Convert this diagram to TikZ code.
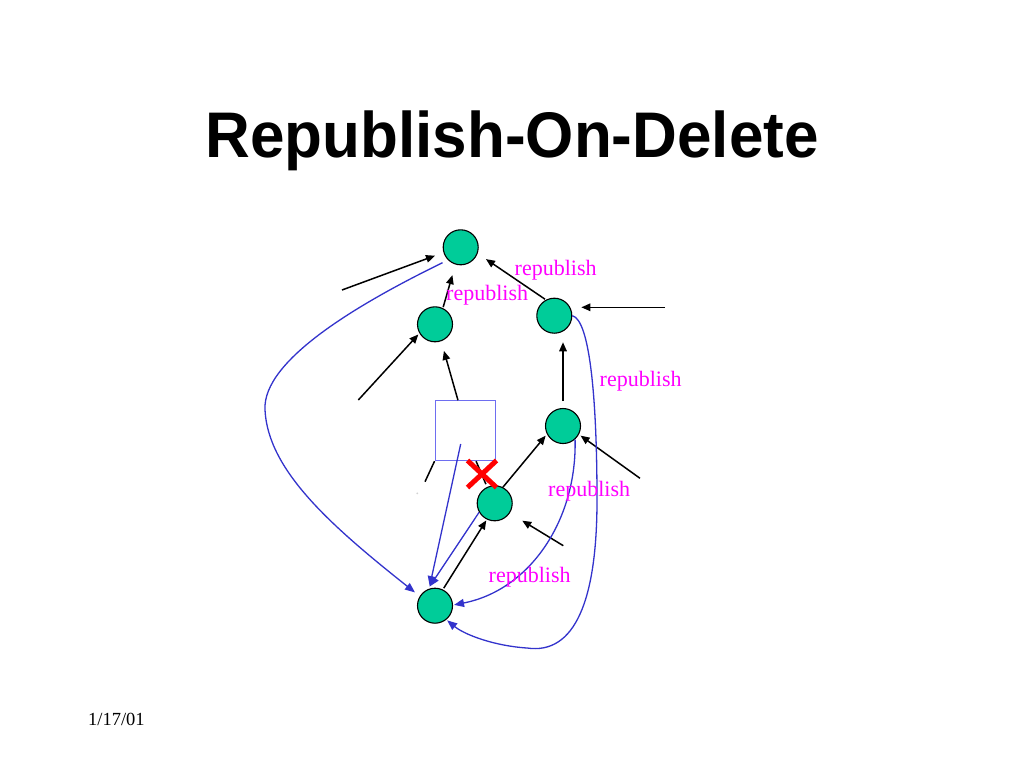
\documentclass[tikz,border=0pt]{standalone}
\usepackage{fontspec}
\setmainfont{Liberation Serif}
\newfontfamily\titlefont{Liberation Sans}
\usetikzlibrary{arrows.meta,shapes.misc}
\definecolor{peergreen}{RGB}{0,204,153}
\definecolor{curveblue}{RGB}{51,51,204}
\definecolor{boxblue}{RGB}{110,110,240}
\definecolor{repmagenta}{RGB}{255,0,255}
\begin{document}
\begin{tikzpicture}[x=1pt,y=-1pt,
 peer/.style={circle,draw=black,line width=1.1pt,fill=peergreen,minimum size=35pt,inner sep=0pt},
 arr/.style={line width=1.5pt,-{Triangle[length=9pt,width=7.5pt]}},
 plain/.style={line width=1.5pt},
 bluearr/.style={draw=curveblue,line width=1.3pt,-{Triangle[length=10pt,width=8pt]}},
 lbl/.style={text=repmagenta,font=\fontsize{22}{22}\selectfont,anchor=base west,inner sep=0pt},
]
\useasboundingbox[fill=white] (0,0) rectangle (1024,768);

% title and date
\node[font=\titlefont\bfseries\fontsize{62}{62}\selectfont, anchor=base, inner sep=0pt, yscale=1.04] (title) at (512,157) {Republish-On-Delete};
\node[font=\fontsize{18.5}{18.5}\selectfont, anchor=base west, inner sep=0pt] (date) at (88,725) {1/17/01};

% peers
\node[peer] (A) at (460.7,247.3) {};
\node[peer] (B) at (435,324.3) {};
\node[peer] (C) at (554.3,315.7) {};
\node[peer] (D) at (563,426) {};
\node[peer] (E) at (494.7,503.3) {};
\node[peer] (F) at (435,605.7) {};
\node[draw=boxblue,line width=0.9pt,minimum width=60pt,minimum height=60pt,inner sep=0pt] (R) at (465,430.7) {};

% free ends
\coordinate (s1) at (342,290);
\coordinate (s4) at (665,307.3);
\coordinate (s5) at (358.3,400);
\coordinate (s8) at (640,478.3);
\coordinate (s10) at (563.3,545.7);
\coordinate (s12) at (425,481.7);
\coordinate (r1) at (460.7,444);

% black arrows
\draw[arr, shorten >=9pt] (s1) -- (A.197);
\draw[arr, shorten >=11pt, shorten <=1pt] (B.64) -- (A.253);
\draw[arr, shorten >=10pt, shorten <=1pt] (C.118) -- (A.340);
\draw[arr, shorten >=9pt] (s4) -- (s4 -| C.east);
\draw[arr, shorten >=1.5pt] (s5) -- (B.210);
\draw[arr, shorten >=10pt] (R.103) -- (B.290);
\draw[arr, shorten >=8.5pt, shorten <=6.8pt] (D.north) -- (D.north |- C.south);
\draw[arr, shorten >=2pt] (s8) -- (D.332);
\draw[arr, shorten >=2pt] (E.63) -- (D.207);
\draw[arr, shorten >=14.5pt] (s10) -- (E.327);
\draw[arr, shorten >=1pt, shorten <=1.5pt] (F.64) -- (E.244);
\draw[plain, shorten >=3pt] (R.290) -- (E.115);
\draw[plain] (R.south west) -- (s12);
\node[circle,fill=gray!35,inner sep=0pt,minimum size=2pt] (dot) at (417.3,493.3) {};

% deleted link mark
\node[cross out,draw=red,line width=5pt,minimum width=24pt,minimum height=22pt,inner sep=0pt] (X) at (482,474) {};

% blue republish curves
\draw[bluearr, shorten <=6pt, shorten >=6pt] (A.225) .. controls (360,303) and (262,360) .. (265,410)
   .. controls (268,470) and (330,525) .. (F.148);
\draw[bluearr, shorten >=2.6pt] (r1) -- (F.109);
\draw[bluearr, shorten >=3pt] (E.210) -- (F.113);
\draw[bluearr, shorten >=1pt] (D.312) .. controls (577,520) and (530,590) .. (F.2);
\draw[bluearr, shorten >=1pt] (C.east) .. controls (590,320) and (597,400) .. (597,500)
   .. controls (597,600) and (575,655) .. (527,648)
   .. controls (495,646) and (465,635) .. (F.309);

% labels
\node[lbl] (l1) at (514.5,275) {republish};
\node[lbl] (l2) at (446,300) {republish};
\node[lbl] (l3) at (599.5,386) {republish};
\node[lbl] (l4) at (548,496) {republish};
\node[lbl] (l5) at (488.5,582) {republish};
\end{tikzpicture}
\end{document}
